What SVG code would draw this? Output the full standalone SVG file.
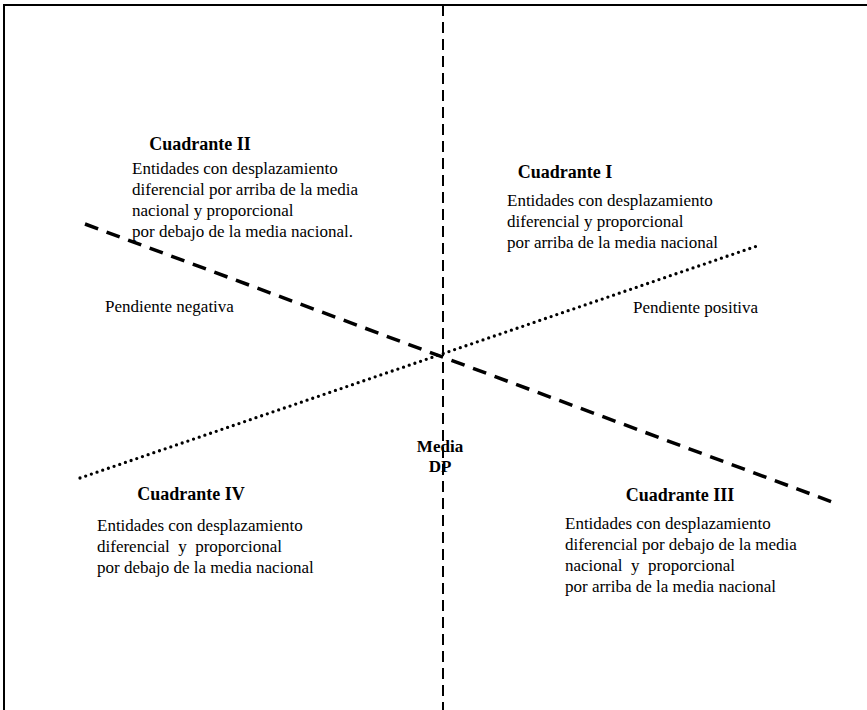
<svg xmlns="http://www.w3.org/2000/svg" width="867" height="710" viewBox="0 0 867 710">
<style>
.t{font-family:"Liberation Serif","Times New Roman",serif;font-size:17px;fill:#000;white-space:pre}
.b{font-family:"Liberation Serif","Times New Roman",serif;font-size:18px;font-weight:bold;fill:#000}
.m{font-family:"Liberation Serif","Times New Roman",serif;font-size:17px;font-weight:bold;fill:#000}
.frame{stroke:#000;stroke-width:2;fill:none}
.axis{stroke:#000;stroke-width:2;stroke-dasharray:11 6;fill:none}
.neg{stroke:#000;stroke-width:3.5;stroke-dasharray:14 9;fill:none}
.pos{stroke:#000;stroke-width:3.3;stroke-dasharray:0 6;stroke-linecap:round;fill:none}
</style>
<rect width="867" height="710" fill="#fff"/>
<g id="connectors">
<path class="frame" d="M4 710 V5 H867"/>
<line class="axis" x1="443" y1="5" x2="443" y2="710"/>
<line class="neg" x1="85" y1="224" x2="835" y2="503"/>
<line class="pos" x1="80" y1="478" x2="757" y2="246"/>
</g>
<g id="q2">
<text class="b" x="200" y="150" text-anchor="middle">Cuadrante II</text>
<text class="t" x="132" y="174">Entidades con desplazamiento</text>
<text class="t" x="132" y="195">diferencial por arriba de la media</text>
<text class="t" x="132" y="216">nacional y proporcional</text>
<text class="t" x="132" y="237">por debajo de la media nacional.</text>
</g>
<g id="q1">
<text class="b" x="565" y="178" text-anchor="middle">Cuadrante I</text>
<text class="t" x="507" y="206">Entidades con desplazamiento</text>
<text class="t" x="507" y="227">diferencial y proporcional</text>
<text class="t" x="507" y="248">por arriba de la media nacional</text>
</g>
<g id="neg-label">
<text class="t" x="105" y="312">Pendiente negativa</text>
</g>
<g id="pos-label">
<text class="t" x="633" y="313">Pendiente positiva</text>
</g>
<g id="media">
<text class="m" x="440" y="452" text-anchor="middle">Media</text>
<text class="m" x="440" y="472" text-anchor="middle">DP</text>
</g>
<g id="q4">
<text class="b" x="191" y="500" text-anchor="middle">Cuadrante IV</text>
<text class="t" x="97" y="531">Entidades con desplazamiento</text>
<text class="t" x="97" y="552" xml:space="preserve">diferencial  y  proporcional</text>
<text class="t" x="97" y="573">por debajo de la media nacional</text>
</g>
<g id="q3">
<text class="b" x="680" y="501" text-anchor="middle">Cuadrante III</text>
<text class="t" x="565" y="529">Entidades con desplazamiento</text>
<text class="t" x="565" y="550">diferencial por debajo de la media</text>
<text class="t" x="565" y="571" xml:space="preserve">nacional  y  proporcional</text>
<text class="t" x="565" y="592">por arriba de la media nacional</text>
</g>
</svg>
